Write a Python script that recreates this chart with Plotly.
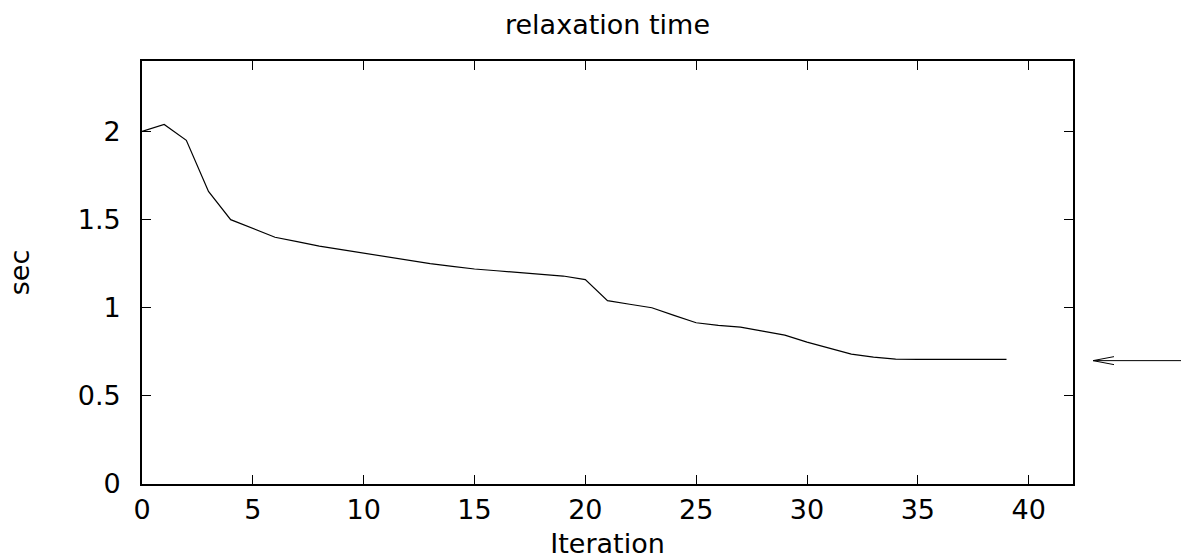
import plotly.graph_objects as go

# Relaxation time per iteration
iterations = list(range(40))
seconds = [2.00, 2.04, 1.95, 1.66, 1.50, 1.45, 1.40, 1.375, 1.35, 1.33,
           1.31, 1.29, 1.27, 1.25, 1.235, 1.22, 1.21, 1.20, 1.19, 1.18,
           1.16, 1.04, 1.02, 1.00, 0.957, 0.915, 0.90, 0.89, 0.867, 0.845,
           0.805, 0.77, 0.737, 0.72, 0.709, 0.707, 0.707, 0.707, 0.707, 0.707]

x_ticks = [0, 5, 10, 15, 20, 25, 30, 35, 40]
y_ticks = [0, 0.5, 1, 1.5, 2]
x_range = [0, 42]
y_range = [0, 2.4]

# level marked by the arrow to the right of the plot
arrow_level = 0.70

W, H = 1181, 559
M_L, M_R, M_T, M_B = 142, 108, 61, 75
FONT = dict(family="DejaVu Sans", size=27, color="black")

fig = go.Figure()
fig.add_trace(go.Scatter(
    x=iterations, y=seconds, mode="lines",
    line=dict(color="black", width=1.2),
    hoverinfo="x+y", showlegend=False,
))

axis_common = dict(
    showgrid=False, zeroline=False, automargin=False,
    showline=True, linecolor="black", linewidth=1.6,
    mirror="allticks", ticks="inside", ticklen=9, tickwidth=1,
    tickcolor="black", tickfont=FONT,
)

fig.update_xaxes(range=x_range, tickvals=x_ticks,
                 ticklabelstandoff=1,
                 title=dict(text="Iteration", font=FONT, standoff=13),
                 **axis_common)
fig.update_yaxes(range=y_range, tickvals=y_ticks,
                 ticklabelstandoff=14,
                 title=dict(text="sec", font=FONT, standoff=40),
                 **axis_common)

# arrow pointing at the plot from the right margin (paper coordinates)
plot_w = W - M_L - M_R
plot_h = H - M_T - M_B
x_tip = 1 + 20 / plot_w
x_tail = 1 + (W - M_L - plot_w + 5) / plot_w
y_arrow = (arrow_level - y_range[0]) / (y_range[1] - y_range[0])
head_dx = 21 / plot_w
head_dy = 4 / plot_h

fig.add_shape(type="line", xref="paper", yref="paper",
              x0=x_tip, x1=x_tail, y0=y_arrow, y1=y_arrow,
              line=dict(color="black", width=1))
fig.add_shape(type="path", xref="paper", yref="paper",
              path=(f"M {x_tip + head_dx} {y_arrow + head_dy} "
                    f"L {x_tip} {y_arrow} "
                    f"L {x_tip + head_dx} {y_arrow - head_dy}"),
              line=dict(color="black", width=1))

fig.update_layout(
    width=W, height=H,
    margin=dict(l=M_L, r=M_R, t=M_T, b=M_B, autoexpand=False),
    paper_bgcolor="white", plot_bgcolor="white",
    font=FONT,
    title=dict(text="relaxation time", font=FONT,
               x=(M_L + plot_w / 2) / W, xanchor="center",
               y=1 - 25 / H, yanchor="middle"),
)

fig.write_html("out.html")
